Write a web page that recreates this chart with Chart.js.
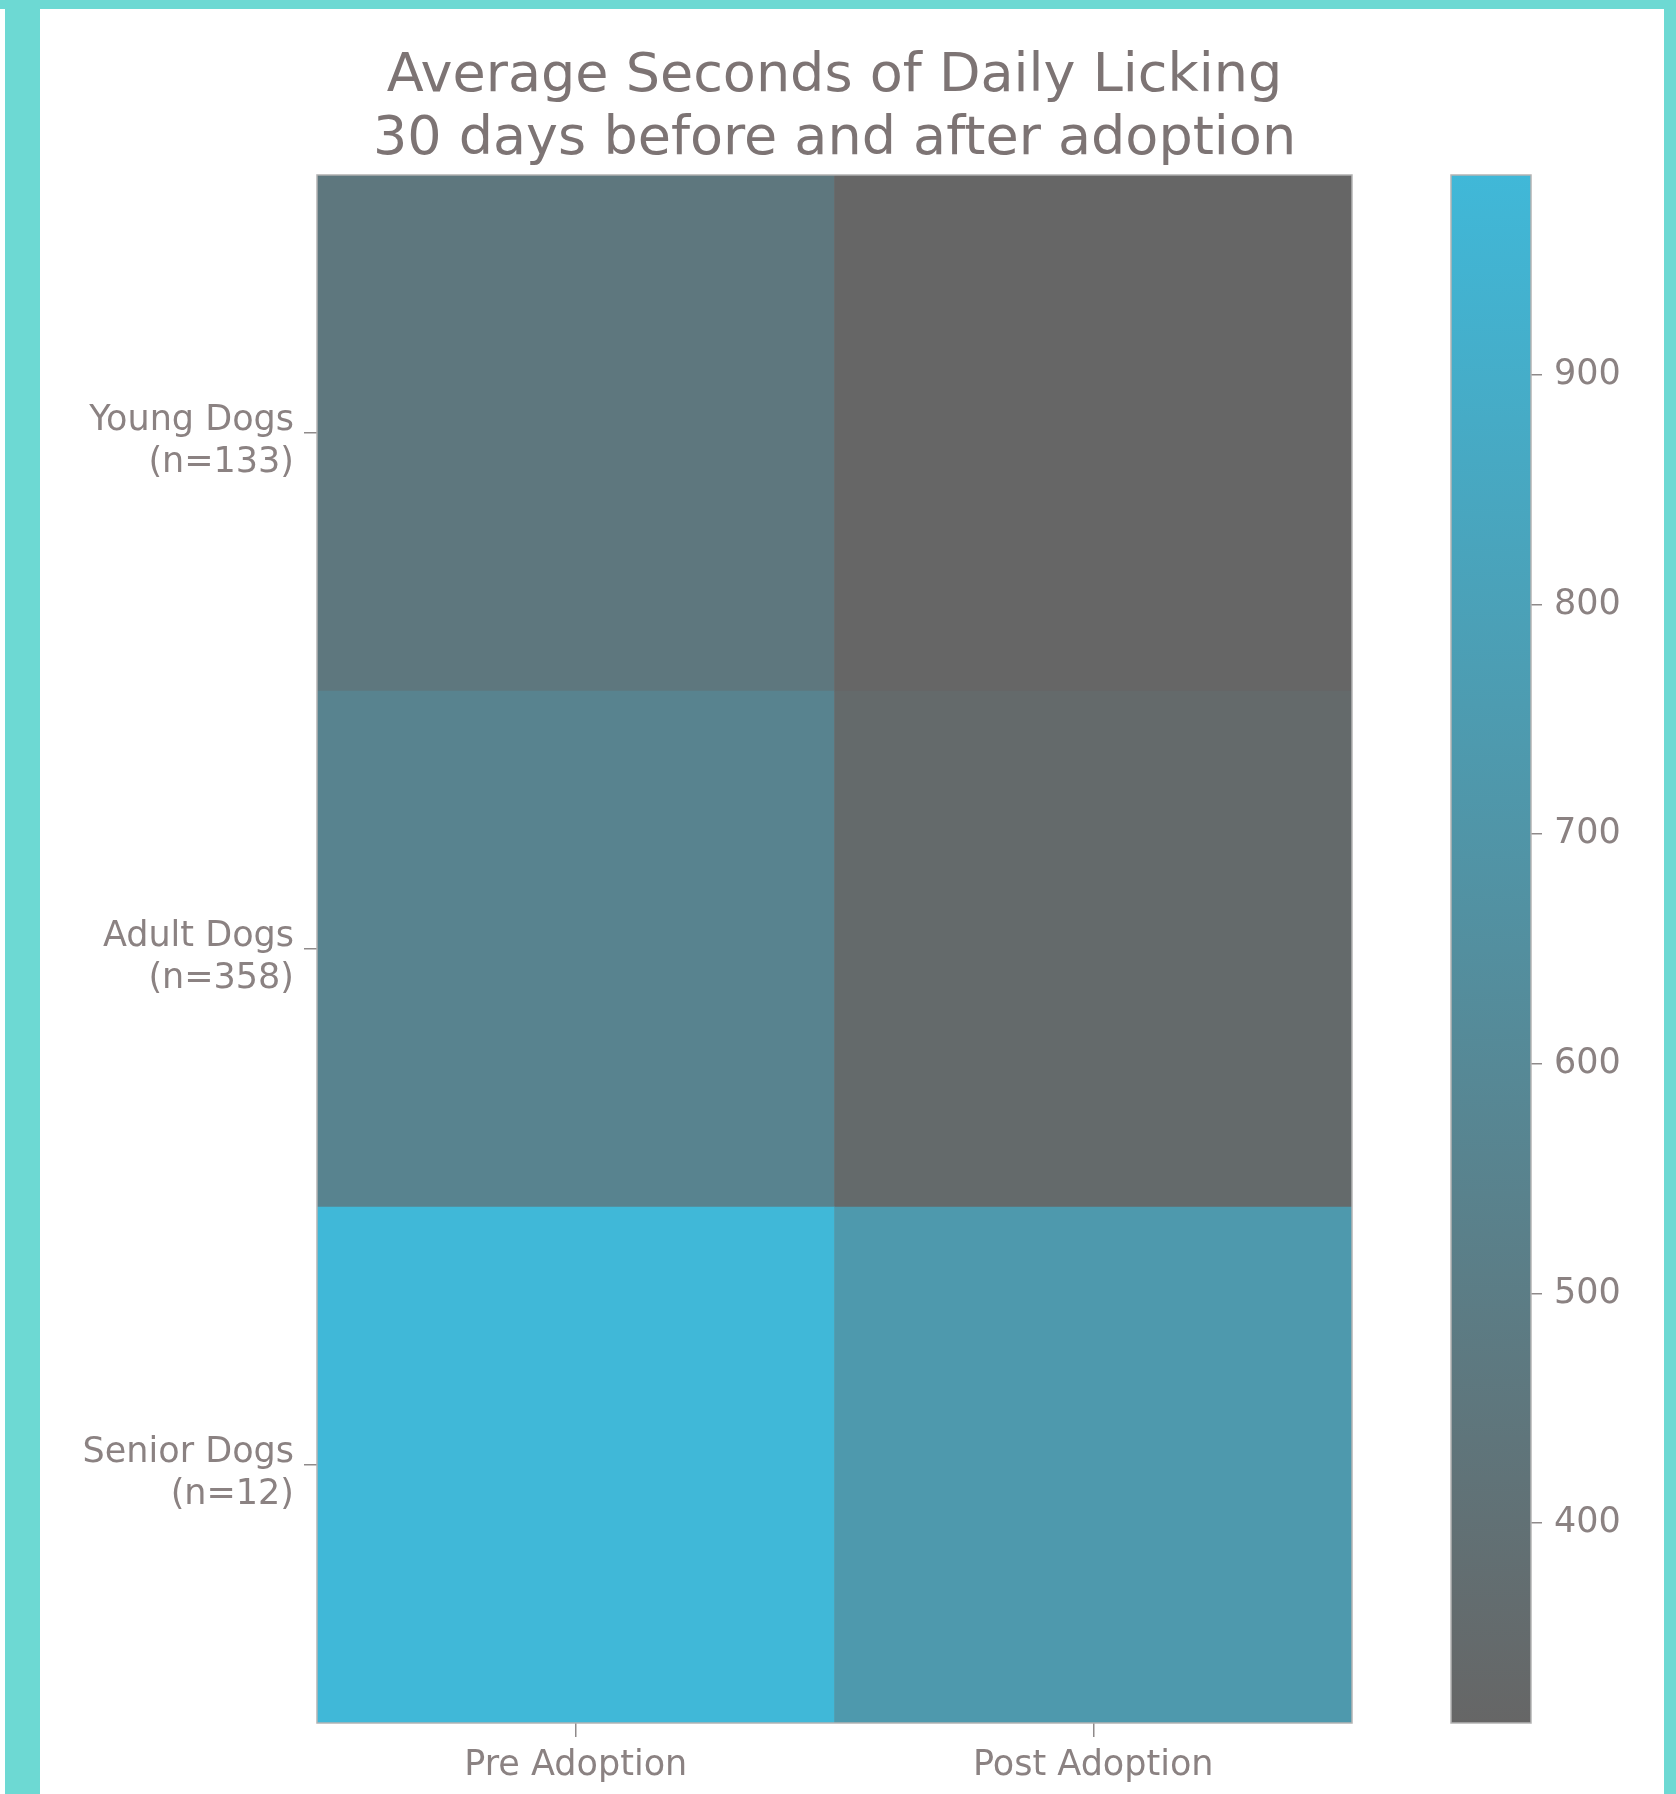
<!DOCTYPE html>
<html>
<head>
<meta charset="utf-8">
<script src="https://cdn.jsdelivr.net/npm/chart.js@4/dist/chart.umd.min.js"></script>
<style>
  html, body { margin: 0; padding: 0; background: #ffffff; }
  #page { position: relative; width: 1676px; height: 1794px; background: #ffffff; overflow: hidden; }
  .teal { position: absolute; background: #6dd9d3; }
  canvas { position: absolute; left: 0; top: 0; }
</style>
</head>
<body>
<div id="page">
  <div class="teal" style="left:5px;top:0;width:35px;height:1794px;"></div>
  <div class="teal" style="left:0;top:0;width:1676px;height:9px;"></div>
  <div class="teal" style="left:1664px;top:0;width:12px;height:1794px;"></div>
  <canvas id="heat" width="1676" height="1794"></canvas>
  <canvas id="cbar" width="1676" height="1794"></canvas>
</div>
<script>
// ---- data ----
const titleLines = ['Average Seconds of Daily Licking', '30 days before and after adoption'];
const columns = ['Pre Adoption', 'Post Adoption'];
const rowNames = ['Young Dogs', 'Adult Dogs', 'Senior Dogs'];
const rowCounts = [133, 358, 12];
const preValues = [455, 555, 987];
const postValues = [313, 345, 735];
const colorbarTicks = [400, 500, 600, 700, 800, 900];

// ---- colormap ----
const lowRGB = [102, 102, 102];
const highRGB = [64, 184, 216];
const allValues = preValues.concat(postValues);
const vMin = Math.min(...allValues);
const vMax = Math.max(...allValues);
function rgbStr(a) { return 'rgb(' + a.map(v => Math.round(v)).join(',') + ')'; }
function cmap(v) {
  const t = Math.max(0, Math.min(1, (v - vMin) / (vMax - vMin)));
  return rgbStr(lowRGB.map((c, i) => c + (highRGB[i] - c) * t));
}

const FONT = "'DejaVu Sans', 'Liberation Sans', sans-serif";
const tickColor = '#8b8282';
const markColor = '#8f8a8a';

const frame = {
  id: 'frame',
  afterDatasetsDraw(chart) {
    const a = chart.chartArea, c = chart.ctx;
    c.save();
    c.strokeStyle = '#b4b4b4';
    c.lineWidth = 1.5;
    c.strokeRect(a.left, a.top, a.right - a.left, a.bottom - a.top);
    c.restore();
  }
};

// heatmap: rows stacked bottom (last row) to top (first row)
const datasets = [];
for (let i = rowNames.length - 1; i >= 0; i--) {
  datasets.push({
    label: rowNames[i],
    data: columns.map(() => 1),
    backgroundColor: [cmap(preValues[i]), cmap(postValues[i])],
    borderWidth: 0,
    barPercentage: 1,
    categoryPercentage: 1
  });
}
const rowCenters = rowNames.map((_, i) => rowNames.length - 1 - i + 0.5);

new Chart(document.getElementById('heat'), {
  type: 'bar',
  data: { labels: columns, datasets: datasets },
  options: {
    responsive: false,
    animation: false,
    events: [],
    layout: { padding: { left: 40, right: 324, top: 9, bottom: 0 } },
    plugins: {
      legend: { display: false },
      tooltip: { enabled: false },
      title: {
        display: true,
        text: titleLines,
        fullSize: false,
        color: '#7d7474',
        font: { family: FONT, size: 54, weight: 'normal', lineHeight: 1.17 },
        padding: { top: 36, bottom: 3.6 }
      }
    },
    scales: {
      x: {
        type: 'category',
        stacked: true,
        offset: true,
        grid: { offset: false, drawOnChartArea: false, tickLength: 14, color: markColor, lineWidth: 1.5 },
        border: { display: false },
        ticks: { color: tickColor, font: { family: FONT, size: 35 }, padding: 8 },
        afterFit(s) { s.height = 71; }
      },
      y: {
        type: 'linear',
        stacked: true,
        min: 0,
        max: rowNames.length,
        grid: { drawOnChartArea: false, tickLength: 13, color: markColor, lineWidth: 1.5 },
        border: { display: false },
        afterBuildTicks(s) { s.ticks = rowCenters.map(v => ({ value: v })); },
        ticks: {
          autoSkip: false,
          color: tickColor,
          font: { family: FONT, size: 35, lineHeight: 1.2 },
          padding: 10,
          labelOffset: 9,
          callback(value) {
            const i = rowNames.length - 1 - Math.floor(value);
            return [rowNames[i], '(n=' + rowCounts[i] + ')'];
          }
        },
        afterFit(s) { s.width = 277; }
      }
    }
  },
  plugins: [frame]
});

// colorbar
new Chart(document.getElementById('cbar'), {
  type: 'bar',
  data: {
    labels: [''],
    datasets: [{
      data: [[vMin, vMax]],
      borderWidth: 0,
      barPercentage: 1,
      categoryPercentage: 1,
      backgroundColor(ctx) {
        const ch = ctx.chart;
        const y = ch.scales.y;
        if (!ch.chartArea || !y) return cmap(vMax);
        const p0 = y.getPixelForValue(vMin), p1 = y.getPixelForValue(vMax);
        if (!isFinite(p0) || !isFinite(p1)) return cmap(vMax);
        const g = ch.ctx.createLinearGradient(0, p0, 0, p1);
        g.addColorStop(0, rgbStr(lowRGB));
        g.addColorStop(1, rgbStr(highRGB));
        return g;
      }
    }]
  },
  options: {
    responsive: false,
    animation: false,
    events: [],
    layout: { padding: { left: 1451, right: 45, top: 175, bottom: 71 } },
    plugins: { legend: { display: false }, tooltip: { enabled: false }, title: { display: false } },
    scales: {
      x: { display: false, offset: true },
      y: {
        type: 'linear',
        position: 'right',
        min: vMin,
        max: vMax,
        grid: { drawOnChartArea: false, tickLength: 11, color: markColor, lineWidth: 1.5 },
        border: { display: false },
        afterBuildTicks(s) { s.ticks = colorbarTicks.map(v => ({ value: v })); },
        ticks: { autoSkip: false, color: tickColor, font: { family: FONT, size: 35 }, padding: 12 },
        afterFit(s) { s.width = 100; }
      }
    }
  },
  plugins: [frame]
});
</script>
</body>
</html>
